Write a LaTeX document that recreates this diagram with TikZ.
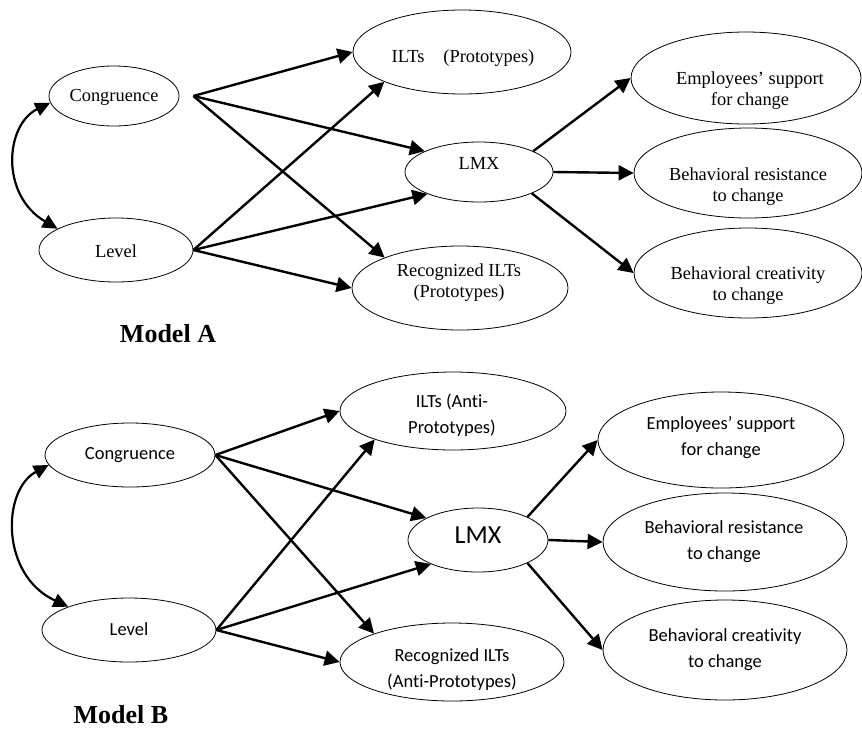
\documentclass[tikz,border=0pt]{standalone}
\usepackage{fontspec}
\setmainfont{Liberation Serif}
\newfontfamily\calibri[Ligatures=NoCommon]{Carlito}
\usetikzlibrary{shapes.geometric,arrows.meta}
\begin{document}
\begin{tikzpicture}[x=1pt,y=-1pt,
  ell/.style={draw, ellipse, line width=0.8pt, inner sep=0pt},
  txtA/.style={align=center, font=\fontsize{18.4}{21}\selectfont, inner sep=0pt},
  txtB/.style={align=center, font=\calibri\fontsize{18.5}{26}\selectfont, inner sep=0pt},
  ttl/.style={font=\bfseries\fontsize{26}{30}\selectfont, inner sep=0pt},
  arr/.style={-{Triangle[length=15pt,width=15pt]}, line width=2.4pt},
  dbl/.style={{Triangle[length=15pt,width=14pt]}-{Triangle[length=15pt,width=14pt]}, line width=2.2pt},
]
\useasboundingbox (0,0) rectangle (862,729);

% ---------------- Model A ----------------
\node[ell, minimum width=130pt, minimum height=60pt] (cA) at (114,96) {};
\node[ell, minimum width=154pt, minimum height=64pt] (lA) at (116,250) {};
\node[ell, minimum width=218pt, minimum height=84pt] (ilA) at (462,52) {};
\node[ell, minimum width=148pt, minimum height=60pt] (lmxA) at (479,172) {};
\node[ell, minimum width=216pt, minimum height=84pt] (recA) at (460,288) {};
\node[ell, minimum width=230pt, minimum height=92pt] (empA) at (746,78) {};
\node[ell, minimum width=228pt, minimum height=90pt] (resA) at (748,173) {};
\node[ell, minimum width=228pt, minimum height=90pt] (creA) at (748,273) {};

\node[txtA] (tcA) at (114,97) {Congruence};
\node[txtA] (tlA) at (116,251) {Level};
\node[txtA] (tilA) at (463,58) {ILTs\hspace{19pt}(Prototypes)};
\node[txtA] (tlmxA) at (479,163) {LMX};
\node[txtA] (trecA) at (459,283) {Recognized ILTs\\(Prototypes)};
\node[txtA] (tempA) at (750,91) {Employees’ support\\for change};
\node[txtA] (tresA) at (748,187) {Behavioral resistance\\to change};
\node[txtA] (tcreA) at (748,286) {Behavioral creativity\\to change};
\node[ttl] (mA) at (168,334) {Model A};

\coordinate (cAo) at ([xshift=14pt]cA.east);
\draw[arr] (cAo) -- (ilA.west);
\draw[arr] (cAo) -- (lmxA.159);
\draw[arr] (cAo) -- (recA.158);
\draw[arr] (lA.east) -- (ilA.201);
\draw[arr] (lA.east) -- (lmxA.203);
\draw[arr] (lA.east) -- (recA.west);
\draw[arr] (lmxA.21) -- (empA.west);
\draw[arr] (lmxA.east) -- (resA.west);
\draw[arr] (lmxA.338) -- (creA.west);
\draw[dbl] (cA.186) .. controls (5,125) and (0,195) .. (lA.160);

% ---------------- Model B ----------------
\node[ell, minimum width=170pt, minimum height=64pt] (cB) at (130,455) {};
\node[ell, minimum width=174pt, minimum height=64pt] (lB) at (129,630) {};
\node[ell, minimum width=226pt, minimum height=78pt] (ilB) at (453,411) {};
\node[ell, minimum width=140pt, minimum height=64pt] (lmxB) at (478,540) {};
\node[ell, minimum width=224pt, minimum height=78pt] (recB) at (452,662) {};
\node[ell, minimum width=246pt, minimum height=96pt] (empB) at (721,440) {};
\node[ell, minimum width=244pt, minimum height=98pt] (resB) at (725,542) {};
\node[ell, minimum width=244pt, minimum height=100pt] (creB) at (725,650) {};

\node[txtB] (tcB) at (130,455) {Congruence};
\node[txtB] (tlB) at (129,629) {Level};
\node[txtB] (tilB) at (452,415) {ILTs (Anti-\\Prototypes)};
\node[txtB, font=\calibri\fontsize{26}{30}\selectfont] (tlmxB) at (478,535) {LMX};
\node[txtB] (trecB) at (452,670) {Recognized ILTs\\(Anti-Prototypes)};
\node[txtB] (tempB) at (721,438) {Employees’ support\\for change};
\node[txtB] (tresB) at (724,542) {Behavioral resistance\\to change};
\node[txtB] (tcreB) at (725,650) {Behavioral creativity\\to change};
\node[ttl] (mB) at (121,715) {Model B};

\draw[arr] (cB.east) -- (ilB.west);
\draw[arr] (cB.east) -- (lmxB.157);
\draw[arr] (cB.east) -- (recB.160);
\draw[arr] (lB.east) -- (ilB.200);
\draw[arr] (lB.east) -- (lmxB.207);
\draw[arr] (lB.east) -- (recB.west);
\draw[arr] (lmxB.25) -- (empB.west);
\draw[arr] (lmxB.east) -- (resB.west);
\draw[arr] (lmxB.335) -- (creB.west);
\draw[dbl] (cB.187) .. controls (2,490) and (0,575) .. (lB.159);
\end{tikzpicture}
\end{document}
